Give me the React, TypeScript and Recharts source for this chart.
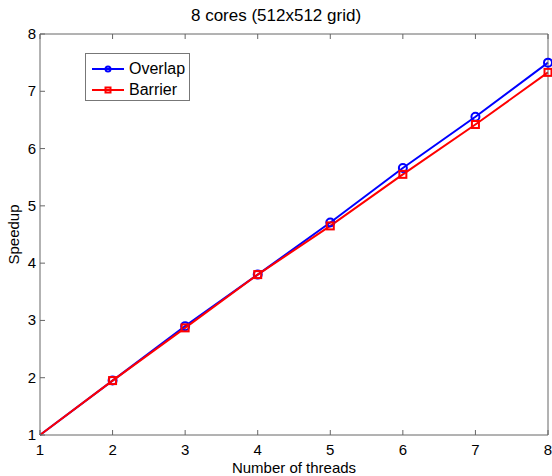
import React from "react"
import { LineChart, Line, XAxis, YAxis } from "recharts"

const threads = [1, 2, 3, 4, 5, 6, 7, 8]
const overlap = [1, 1.95, 2.9, 3.8, 4.71, 5.66, 6.555, 7.5]
const barrier = [1, 1.95, 2.87, 3.8, 4.65, 5.55, 6.42, 7.33]
const xTicks = [1, 2, 3, 4, 5, 6, 7, 8]
const yTicks = [1, 2, 3, 4, 5, 6, 7, 8]

const data = threads.map((t, i) => ({ t, overlap: overlap[i], barrier: barrier[i] }))

const font = "'Liberation Sans', Arial, sans-serif"
const axisColor = "#666"
const fs = 15

// the (1,1) corner point shows no marker in the source plot
const CircleDot = (props: any) => {
  const { cx, cy, index } = props
  if (index === 0) return <g key={"c" + index} />
  return <circle key={"c" + index} cx={cx} cy={cy} r={4} fill="none" stroke="#0000ff" strokeWidth={2} />
}

const SquareDot = (props: any) => {
  const { cx, cy, index } = props
  if (index === 0) return <g key={"s" + index} />
  return <rect key={"s" + index} x={cx - 3.5} y={cy - 3.5} width={7} height={7} fill="none" stroke="#ff0000" strokeWidth={2} />
}

// inward ticks, MATLAB style
const BottomTick = ({ x, y, payload }: any) => (
  <g>
    <line x1={x} y1={y} x2={x} y2={y - 5} stroke={axisColor} />
    <text x={x} y={y + 20} textAnchor="middle" fill="#000" fontFamily={font} fontSize={fs}>{payload.value}</text>
  </g>
)
const LeftTick = ({ x, y, payload }: any) => (
  <g>
    <line x1={x} y1={y} x2={x + 5} y2={y} stroke={axisColor} />
    <text x={x - 4} y={y + 5} textAnchor="end" fill="#000" fontFamily={font} fontSize={fs}>{payload.value}</text>
  </g>
)
const TopTick = ({ x, y }: any) => <line x1={x} y1={y} x2={x} y2={y + 5} stroke={axisColor} />
const RightTick = ({ x, y }: any) => <line x1={x} y1={y} x2={x - 5} y2={y} stroke={axisColor} />

function LegendBox() {
  const items = [
    { name: "Overlap", color: "#0000ff", marker: "circle" },
    { name: "Barrier", color: "#ff0000", marker: "square" },
  ]
  return (
    <div style={{ position: "absolute", left: 85, top: 53, border: "1px solid #777", background: "#fff", width: 105, height: 48, boxSizing: "border-box", padding: "4px 0 0 6px" }}>
      {items.map((it) => (
        <div key={it.name} style={{ display: "flex", alignItems: "center", height: 21, fontFamily: font, fontSize: 16, color: "#000" }}>
          <svg width={32} height={10} style={{ marginRight: 5 }}>
            <line x1={0} y1={5} x2={32} y2={5} stroke={it.color} strokeWidth={2} />
            {it.marker === "circle" ? (
              <circle cx={16} cy={5} r={2.5} fill="none" stroke={it.color} strokeWidth={2} />
            ) : (
              <rect x={13.5} y={2.5} width={5} height={5} fill="none" stroke={it.color} strokeWidth={2} />
            )}
          </svg>
          <span>{it.name}</span>
        </div>
      ))}
    </div>
  )
}

export default function App() {
  return (
    <div style={{ position: "absolute", left: 0, top: 0, width: 552, height: 476, background: "#fff" }}>
      <div style={{ position: "absolute", left: 0, top: 6, width: 552, textAlign: "center", fontFamily: font, fontSize: 17, color: "#000" }}>
        8 cores (512x512 grid)
      </div>
      <LineChart width={552} height={476} data={data} margin={{ top: 33, right: 3, bottom: 0, left: 0 }}>
        <XAxis
          xAxisId="b"
          dataKey="t"
          type="number"
          domain={[1, 8]}
          ticks={xTicks}
          height={41}
          stroke={axisColor}
          tickLine={false}
          tickSize={0}
          tickMargin={0}
          tick={<BottomTick />}
          label={{ value: "Number of threads", position: "insideBottom", offset: 3, fill: "#000", fontFamily: font, fontSize: fs }}
        />
        <XAxis xAxisId="t" dataKey="t" type="number" orientation="top" domain={[1, 8]} ticks={xTicks} height={1} stroke={axisColor} tickLine={false} tickSize={0} tickMargin={0} tick={<TopTick />} />
        <YAxis
          yAxisId="l"
          type="number"
          domain={[1, 8]}
          ticks={yTicks}
          width={40}
          stroke={axisColor}
          tickLine={false}
          tickSize={0}
          tickMargin={0}
          tick={<LeftTick />}
          label={{ value: "Speedup", angle: -90, position: "insideLeft", offset: 14, fill: "#000", fontFamily: font, fontSize: fs, style: { textAnchor: "middle" } }}
        />
        <YAxis yAxisId="r" type="number" orientation="right" domain={[1, 8]} ticks={yTicks} width={1} stroke={axisColor} tickLine={false} tickSize={0} tickMargin={0} tick={<RightTick />} />
        <Line xAxisId="b" yAxisId="l" dataKey="overlap" stroke="#0000ff" strokeWidth={2} dot={CircleDot} isAnimationActive={false} />
        <Line xAxisId="b" yAxisId="l" dataKey="barrier" stroke="#ff0000" strokeWidth={2} dot={SquareDot} isAnimationActive={false} />
      </LineChart>
      <LegendBox />
    </div>
  )
}
